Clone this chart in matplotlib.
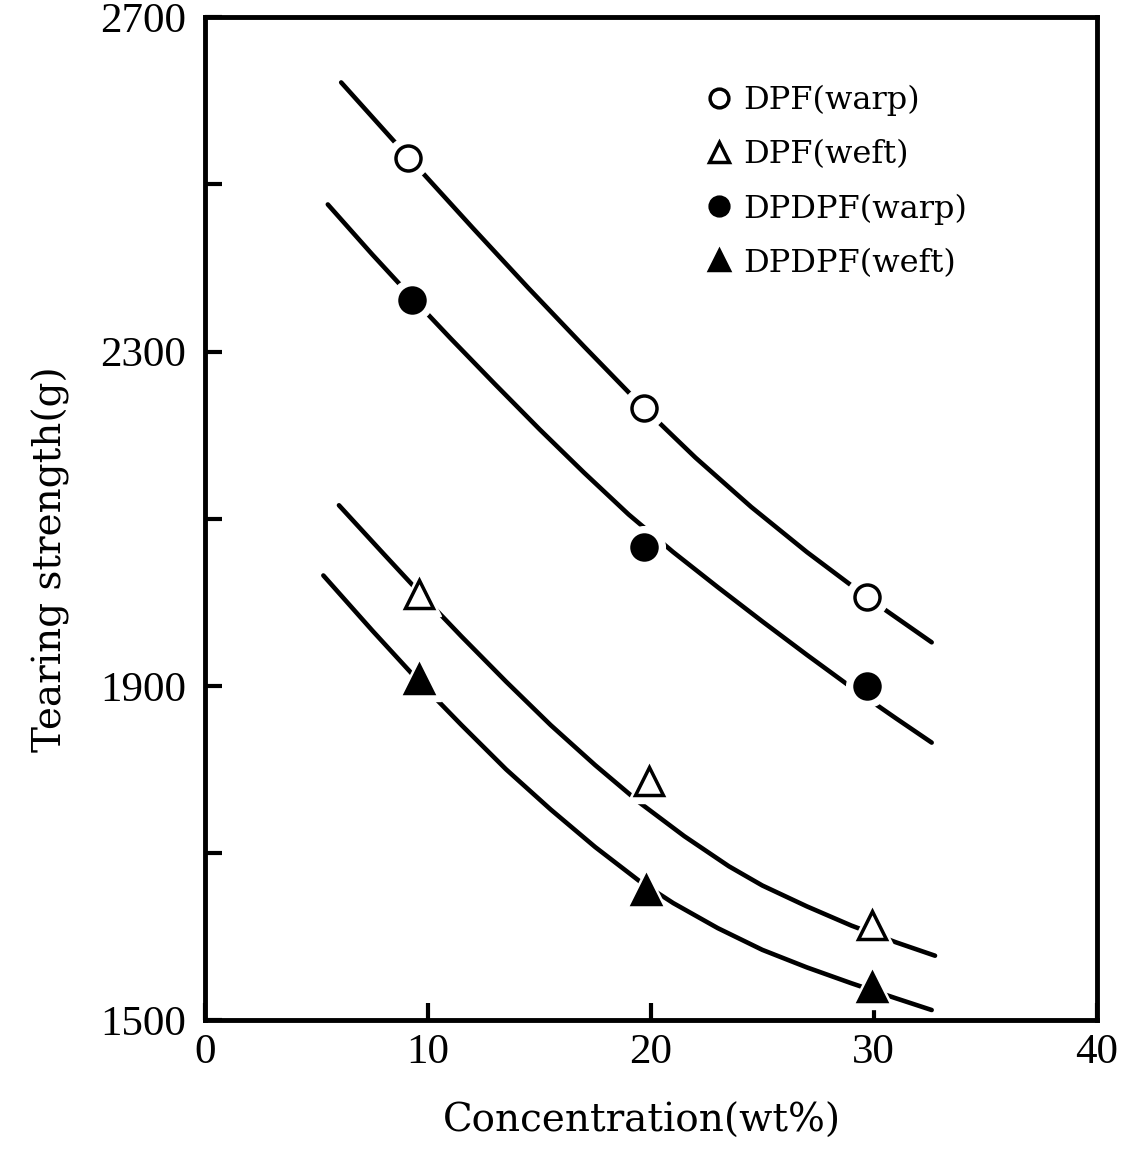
import matplotlib
matplotlib.use('Agg')
import matplotlib.pyplot as plt

plt.rcParams['font.family'] = ['Liberation Serif', 'DejaVu Serif']

# measured points
x_dpf_warp = [9.1, 19.7, 29.7]
y_dpf_warp = [2532, 2232, 2006]
x_dpf_weft = [9.6, 19.9, 29.9]
y_dpf_weft = [2010, 1786, 1614]
x_dpdpf_warp = [9.3, 19.7, 29.7]
y_dpdpf_warp = [2362, 2066, 1900]
x_dpdpf_weft = [9.6, 19.8, 29.9]
y_dpdpf_weft = [1908, 1656, 1540]

# fitted curves
cx_dpf_warp = [6.1, 9.1, 12.0, 14.5, 17.0, 19.7, 22.0, 24.5, 27.0, 29.7, 32.6]
cy_dpf_warp = [2622, 2533, 2448, 2376, 2306, 2232, 2173, 2114, 2060, 2006, 1952]
cx_dpdpf_warp = [5.5, 7.5, 9.3, 11.0, 13.0, 15.0, 17.0, 19.0, 21.0, 23.0, 25.0,
                 27.0, 29.0, 31.0, 32.6]
cy_dpdpf_warp = [2476, 2416, 2364, 2316, 2261, 2207, 2155, 2105, 2060, 2018, 1977,
                 1937, 1898, 1861, 1832]
cx_dpf_weft = [6.0, 8.0, 9.6, 11.5, 13.5, 15.5, 17.5, 19.5, 21.5, 23.5, 25.0,
               27.0, 29.0, 31.0, 32.75]
cy_dpf_weft = [2116, 2058, 2012, 1959, 1905, 1853, 1805, 1760, 1720, 1684, 1661,
               1636, 1613, 1593, 1577]
cx_dpdpf_weft = [5.3, 7.5, 9.6, 11.5, 13.5, 15.5, 17.5, 19.5, 21.0, 23.0, 25.0,
                 27.0, 29.0, 31.0, 32.6]
cy_dpdpf_weft = [2032, 1966, 1905, 1853, 1800, 1752, 1707, 1666, 1640, 1610, 1584,
                 1563, 1544, 1526, 1512]

labels = ['DPF(warp)', 'DPF(weft)', 'DPDPF(warp)', 'DPDPF(weft)']
x_ticks = [0, 10, 20, 30, 40]
y_ticks = [1500, 1700, 1900, 2100, 2300, 2500, 2700]
y_ticklabels = ['1500', '', '1900', '', '2300', '', '2700']

fig = plt.figure(figsize=(11.34, 11.5), dpi=100)
ax = fig.add_axes([0.181, 0.113, 0.786, 0.872])

lw = 3.3
for cx, cy in [(cx_dpf_warp, cy_dpf_warp), (cx_dpdpf_warp, cy_dpdpf_warp),
               (cx_dpf_weft, cy_dpf_weft), (cx_dpdpf_weft, cy_dpdpf_weft)]:
    ax.plot(cx, cy, color='black', lw=lw, solid_capstyle='round',
            solid_joinstyle='round', zorder=2)

series = [
    (x_dpf_warp, y_dpf_warp, 'o', 'white'),
    (x_dpf_weft, y_dpf_weft, '^', 'white'),
    (x_dpdpf_warp, y_dpdpf_warp, 'o', 'black'),
    (x_dpdpf_weft, y_dpdpf_weft, '^', 'black'),
]
handles = []
for (xs, ys, m, fc), lab in zip(series, labels):
    ms = 18 if m == 'o' else 20
    # white halo breaks the curve around each marker
    ax.plot(xs, ys, ls='none', marker=m, ms=ms + 12, mfc='white', mec='white', zorder=3)
    h, = ax.plot(xs, ys, ls='none', marker=m, ms=ms, mfc=fc, mec='black',
                 mew=2.5, zorder=4, label=lab)
    handles.append(h)

ax.set_xlim(0, 40)
ax.set_ylim(1500, 2700)
ax.set_xticks(x_ticks)
ax.set_yticks(y_ticks)
ax.set_yticklabels(y_ticklabels)
ax.tick_params(direction='in', length=12, width=3, labelsize=31, top=False, right=False)
ax.tick_params(axis='y', pad=14)
ax.tick_params(axis='x', pad=10)
for sp in ax.spines.values():
    sp.set_linewidth(3.5)

lab_font = {'family': ['DejaVu Serif'], 'size': 28}
ax.set_xlabel('Concentration(wt%)', fontdict=lab_font)
ax.set_ylabel('Tearing strength(g)', fontdict=lab_font)
ax.xaxis.set_label_coords(0.49, -0.083)
ax.yaxis.set_label_coords(-0.152, 0.46)

ax.legend(handles=handles, loc='upper left', bbox_to_anchor=(0.548, 0.945),
          frameon=False, prop={'family': ['DejaVu Serif'], 'size': 23},
          markerscale=0.75, handlelength=0.8, handletextpad=0.35,
          labelspacing=0.72, borderaxespad=0)

fig.savefig('out.png', dpi=100)
